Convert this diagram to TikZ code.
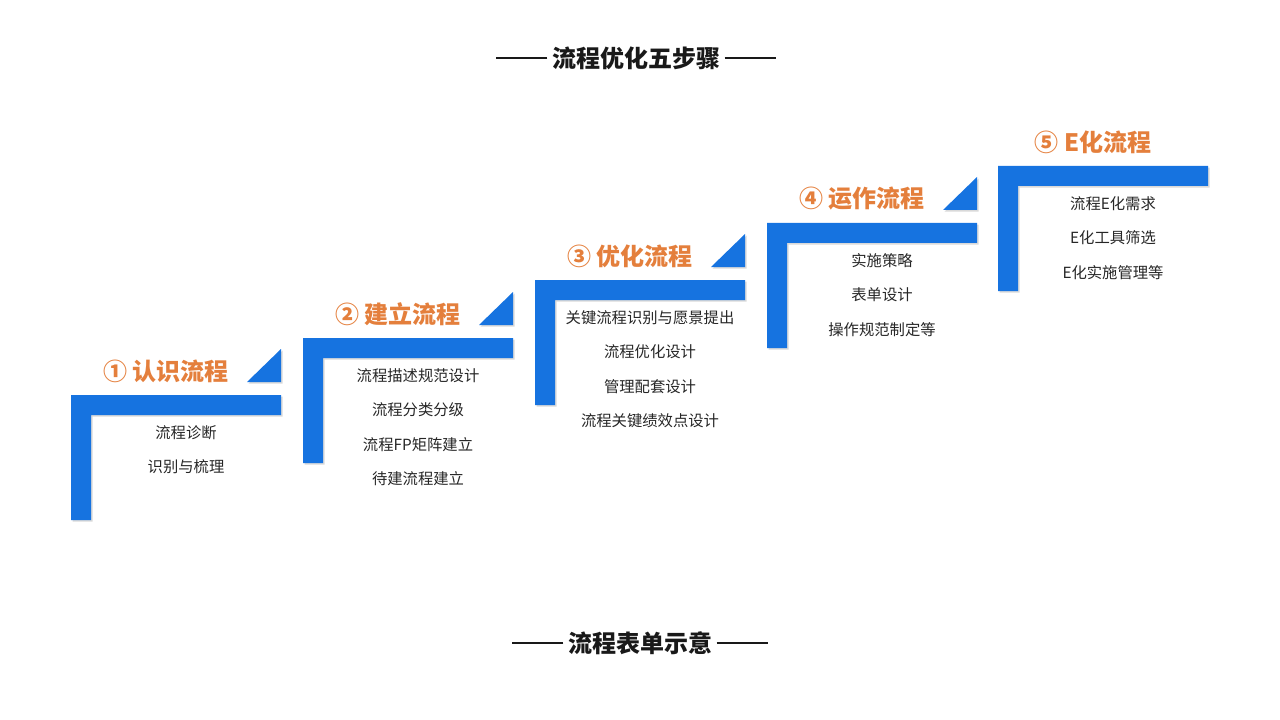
\documentclass[tikz,border=0pt]{standalone}
\usepackage{fontspec}
\setmainfont{Noto Sans CJK SC}
\usepackage{tikz}
\usetikzlibrary{positioning}
\usetikzlibrary{shadows}
\definecolor{stairblue}{HTML}{1673E0}
\definecolor{titleorange}{HTML}{E47F3C}
\tikzset{stair/.style = {fill = stairblue, drop shadow = {opacity = 0.3, shadow xshift = 1.2pt, shadow yshift = -1.2pt}}}
\tikzset{headline/.style = {font = \fontsize{18pt}{20pt}\selectfont\bfseries, text = black!90}}
\tikzset{rule/.style = {line width = 1.9pt, black!90}}
\tikzset{steptitle/.style = {font = \fontsize{18pt}{20pt}\selectfont\bfseries, text = titleorange}}
\tikzset{item/.style = {font = \fontsize{11.5pt}{13pt}\selectfont, text = black!85, inner sep = 0, text height = 9pt, text depth = 2.5pt}}

\begin{document}
\begin{tikzpicture}[x = 0.75pt, y = -0.75pt, node distance = 14pt]
      \useasboundingbox (0, 0) rectangle (1280, 720);
      \node [headline] (top title) at (636, 58) {流程优化五步骤};
      \draw [rule] (top title.west) -- ++(-51, 0);
      \draw [rule] (top title.east) -- ++(51, 0);

      \begin{scope}[shift={(71, 395)}]
        \path [stair] (0, 0) -- (210, 0) -- (210, 20) -- (20, 20) -- (20, 125) -- (0, 125) -- cycle;
        \path [stair] (176, -13) -- (210, -13) -- (210, -46) -- cycle;
        \node [steptitle] (title one) at (95, -24) {① 认识流程};
        \node [item] (one a) at (115, 39) {流程诊断};
        \node [item, below = of one a] (one b) {识别与梳理};
      \end{scope}

      \begin{scope}[shift={(303, 338)}]
        \path [stair] (0, 0) -- (210, 0) -- (210, 20) -- (20, 20) -- (20, 125) -- (0, 125) -- cycle;
        \path [stair] (176, -13) -- (210, -13) -- (210, -46) -- cycle;
        \node [steptitle] (title two) at (95, -24) {② 建立流程};
        \node [item] (two a) at (115, 39) {流程描述规范设计};
        \node [item, below = of two a] (two b) {流程分类分级};
        \node [item, below = of two b] (two c) {流程FP矩阵建立};
        \node [item, below = of two c] (two d) {待建流程建立};
      \end{scope}

      \begin{scope}[shift={(535, 280)}]
        \path [stair] (0, 0) -- (210, 0) -- (210, 20) -- (20, 20) -- (20, 125) -- (0, 125) -- cycle;
        \path [stair] (176, -13) -- (210, -13) -- (210, -46) -- cycle;
        \node [steptitle] (title three) at (95, -24) {③ 优化流程};
        \node [item] (three a) at (115, 39) {关键流程识别与愿景提出};
        \node [item, below = of three a] (three b) {流程优化设计};
        \node [item, below = of three b] (three c) {管理配套设计};
        \node [item, below = of three c] (three d) {流程关键绩效点设计};
      \end{scope}

      \begin{scope}[shift={(767, 223)}]
        \path [stair] (0, 0) -- (210, 0) -- (210, 20) -- (20, 20) -- (20, 125) -- (0, 125) -- cycle;
        \path [stair] (176, -13) -- (210, -13) -- (210, -46) -- cycle;
        \node [steptitle] (title four) at (95, -24) {④ 运作流程};
        \node [item] (four a) at (115, 39) {实施策略};
        \node [item, below = of four a] (four b) {表单设计};
        \node [item, below = of four b] (four c) {操作规范制定等};
      \end{scope}

      \begin{scope}[shift={(998, 166)}]
        \path [stair] (0, 0) -- (210, 0) -- (210, 20) -- (20, 20) -- (20, 125) -- (0, 125) -- cycle;
        \node [steptitle] (title five) at (95, -24) {⑤ E化流程};
        \node [item] (five a) at (115, 39) {流程E化需求};
        \node [item, below = of five a] (five b) {E化工具筛选};
        \node [item, below = of five b] (five c) {E化实施管理等};
      \end{scope}

      \node [headline] (bottom title) at (640, 643) {流程表单示意};
      \draw [rule] (bottom title.west) -- ++(-51, 0);
      \draw [rule] (bottom title.east) -- ++(51, 0);
    \end{tikzpicture}
\end{document}
